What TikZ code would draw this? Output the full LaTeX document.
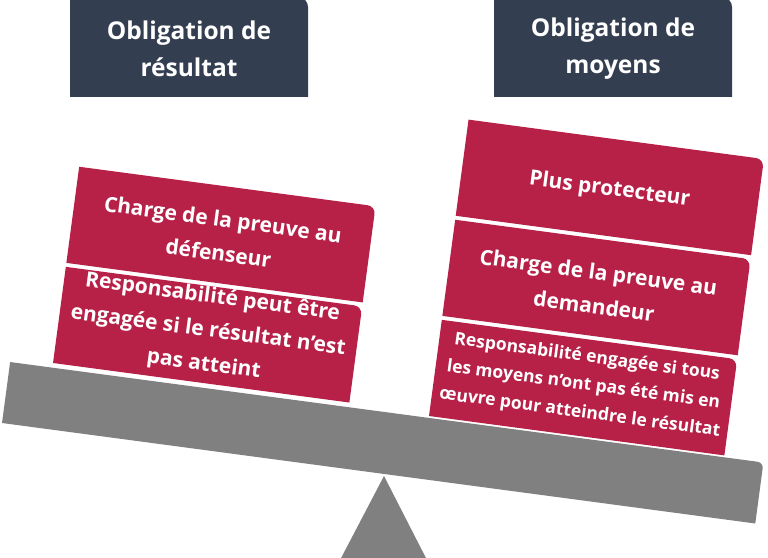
\documentclass[tikz,border=0pt]{standalone}
\usepackage{fontspec}
\setmainfont{Open Sans}
\definecolor{crim}{HTML}{B72148}
\definecolor{slate}{HTML}{343E51}
\definecolor{beamgray}{HTML}{808080}
\tikzset{
  hdrtext/.style={text=white, font=\bfseries\fontsize{24.5}{37}\selectfont, align=center, inner sep=0pt},
  boxtext/.style={text=white, font=\bfseries\fontsize{21}{34}\selectfont, align=center, inner sep=0pt, transform shape},
  smalltext/.style={text=white, font=\bfseries\fontsize{17.5}{28}\selectfont, align=center, inner sep=0pt, transform shape}
}
% box with rounded top-right corner: #1 = x0, #2 = y0, #3 = width, #4 = height, #5 = colour
\newcommand{\rtbox}[5]{\fill[#5] (#1,#2) -- ({#1+#3},#2) -- ({#1+#3},{#2+#4-8}) arc[start angle=0,end angle=90,radius=8] -- (#1,{#2+#4}) -- cycle;}
\begin{document}
\begin{tikzpicture}[x=1pt,y=1pt]
\useasboundingbox (0,0) rectangle (768,557);
% pivot
\fill[beamgray] (339,-5) -- (384,81) -- (428,-5) -- cycle;
% beam
\begin{scope}[shift={(2,134)}, rotate=-7.6]
  \fill[beamgray] (0,0) -- (760,0) -- (760,55.5) arc[start angle=0,end angle=90,radius=6] -- (0,61.5) -- cycle;
\end{scope}
% headers
\fill[slate] (70,460) -- (308,460) -- (308,550) arc[start angle=0,end angle=90,radius=10] -- (70,560) -- cycle;
\fill[slate] (494,460) -- (732,460) -- (732,550) arc[start angle=0,end angle=90,radius=10] -- (494,560) -- cycle;
\node[hdrtext] (h1) at (189,508) {Obligation de\\résultat};
\node[hdrtext] (h2) at (613,508) {Obligation de\\moyens};
% left stack
\begin{scope}[shift={(53,194)}, rotate=-7.6]
  \rtbox{0}{0}{299}{97}{crim}
  \rtbox{0}{101}{299}{97}{crim}
  \node[boxtext] (l1) at (149.5,148) {Charge de la preuve au\\défenseur};
  \node[boxtext] (l2) at (149.5,52) {Responsabilité peut être\\engagée si le résultat n’est\\pas atteint};
\end{scope}
% right stack
\begin{scope}[shift={(429,141)}, rotate=-7.6]
  \rtbox{0}{0}{298}{97}{crim}
  \rtbox{0}{101}{298}{97}{crim}
  \rtbox{0}{202}{298}{97}{crim}
  \node[boxtext] (r1) at (149,248) {Plus protecteur};
  \node[boxtext] (r2) at (149,148) {Charge de la preuve au\\demandeur};
  \node[smalltext] (r3) at (149,51) {Responsabilité engagée si tous\\les moyens n’ont pas été mis en\\œuvre pour atteindre le résultat};
\end{scope}
\end{tikzpicture}
\end{document}
